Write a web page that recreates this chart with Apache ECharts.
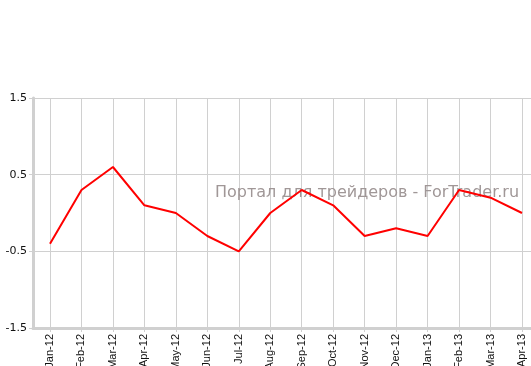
<!DOCTYPE html>
<html><head><meta charset="utf-8">
<script src="https://cdn.jsdelivr.net/npm/echarts@6/dist/echarts.min.js"></script>
<style>html,body{margin:0;padding:0;background:#fff}#c{width:531px;height:366px}</style>
</head><body><div id="c"></div>
<script>
var categories = ['Jan-12','Feb-12','Mar-12','Apr-12','May-12','Jun-12','Jul-12','Aug-12','Sep-12','Oct-12','Nov-12','Dec-12','Jan-13','Feb-13','Mar-13','Apr-13'];
var values = [-0.4, 0.3, 0.6, 0.1, 0.0, -0.3, -0.5, 0.0, 0.3, 0.1, -0.3, -0.2, -0.3, 0.3, 0.2, 0.0];
var watermark = 'Портал для трейдеров - ForTrader.ru';
var yMin = -1.5, yMax = 1.5, yStep = 1;

var chart = echarts.init(document.getElementById('c'), null, {renderer:'canvas'});
var grey = '#d0d0d0';
chart.setOption({
  animation:false,
  title:{text:watermark,left:215,top:185,padding:0,textStyle:{fontFamily:'DejaVu Sans',fontSize:16,fontWeight:'normal',color:'#a09797'},z:0},
  grid:[
    {left:33,right:0,top:98,bottom:38,containLabel:false,outerBoundsMode:'none'},
    {left:50,right:9,top:98,bottom:38,containLabel:false,outerBoundsMode:'none'}
  ],
  xAxis:[
    {gridIndex:0,type:'value',min:0,max:1,axisLine:{show:true,onZero:false,lineStyle:{color:grey,width:3}},axisTick:{show:false},axisLabel:{show:false},splitLine:{show:false}},
    {gridIndex:1,type:'category',boundaryGap:false,data:categories,
     axisLine:{show:false,onZero:false},
     axisTick:{show:true,length:4,lineStyle:{color:grey}},
     axisLabel:{rotate:90,fontSize:11,fontFamily:'Liberation Sans',color:'#111',margin:6,interval:0},
     splitLine:{show:true,lineStyle:{color:grey,width:1}}}
  ],
  yAxis:[
    {gridIndex:0,type:'value',min:yMin,max:yMax,interval:yStep,
     axisLine:{show:true,onZero:false,lineStyle:{color:grey,width:3}},
     axisTick:{show:true,length:4,lineStyle:{color:grey}},
     axisLabel:{fontSize:11,fontFamily:'DejaVu Sans',color:'#111',margin:6,formatter:function(v){return v.toFixed(1);}},
     splitLine:{show:true,lineStyle:{color:grey,width:1}}},
    {gridIndex:1,type:'value',min:yMin,max:yMax,interval:yStep,show:false}
  ],
  series:[{type:'line',xAxisIndex:1,yAxisIndex:1,data:values,showSymbol:false,symbol:'none',
    lineStyle:{color:'#ff0000',width:2},z:5}]
});
</script></body></html>
